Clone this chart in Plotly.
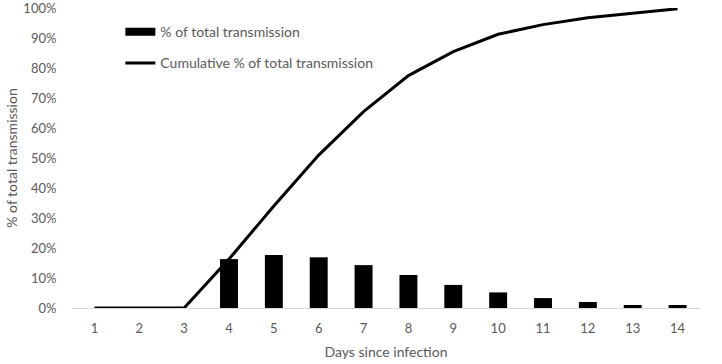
import plotly.graph_objects as go

days = [str(d) for d in range(1, 15)]
daily_pct = [0, 0, 0, 0.163, 0.177, 0.169, 0.143, 0.110, 0.077, 0.052, 0.033, 0.020, 0.010, 0.010]
cumulative_pct = [0, 0, 0, 0.163, 0.340, 0.510, 0.655, 0.775, 0.855, 0.913, 0.945, 0.968, 0.983, 0.998]
y_ticks = [i / 10 for i in range(11)]

FONT = "Lato"
GREY = "#595959"

fig = go.Figure()
fig.add_trace(go.Bar(
    x=days, y=daily_pct, name="% of total transmission",
    marker=dict(color="black", line=dict(width=0)), width=0.4,
    showlegend=False, legendgroup="a",
))
# legend entry for the bars drawn as a thick short bar
fig.add_trace(go.Scatter(
    x=[None], y=[None], mode="lines", name="% of total transmission",
    line=dict(color="black", width=8), legendgroup="a", showlegend=True,
))
fig.add_trace(go.Scatter(
    x=days, y=cumulative_pct, mode="lines", name="Cumulative % of total transmission",
    line=dict(color="black", width=3), legendgroup="b", cliponaxis=False,
))

fig.update_layout(
    width=722, height=364,
    margin=dict(l=72, r=22, t=8, b=56),
    paper_bgcolor="white", plot_bgcolor="white",
    font=dict(family=FONT, color=GREY, size=13),
    bargap=0.6,
    legend=dict(
        x=0.077, y=0.973, xanchor="left", yanchor="top",
        bgcolor="rgba(0,0,0,0)", font=dict(size=14, color=GREY, family=FONT),
        traceorder="grouped", tracegroupgap=10, itemwidth=30,
    ),
    showlegend=True,
)
fig.update_xaxes(
    type="category", range=[-0.5, 13.5], automargin=False,
    showline=True, linecolor="#d9d9d9", linewidth=1,
    showgrid=False, ticks="outside", ticklen=8, tickcolor="rgba(0,0,0,0)",
    tickfont=dict(size=13, color=GREY),
    title=dict(text="Days since infection", font=dict(size=14, color=GREY), standoff=12),
)
fig.update_yaxes(
    range=[0, 1.0005], tickvals=y_ticks, tickformat=".0%", automargin=False,
    showline=False, showgrid=False, zeroline=False,
    ticks="outside", ticklen=12, tickcolor="rgba(0,0,0,0)",
    ticklabeloverflow="allow",
    tickfont=dict(size=13, color=GREY),
    title=dict(text="% of total transmission", font=dict(size=14, color=GREY), standoff=2),
)

fig.write_html(
    "out.html",
    config={"displayModeBar": False},
    post_script="document.body.style.margin='0px';",
)
